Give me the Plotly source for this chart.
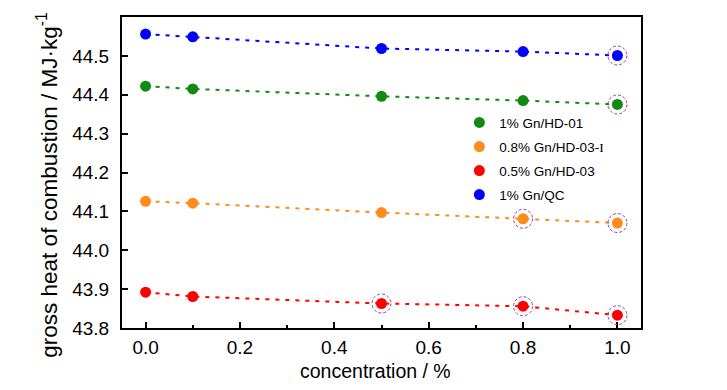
import plotly.graph_objects as go

concentration = [0.0, 0.1, 0.5, 0.8, 1.0]
series_names = ["1% Gn/HD-01",
                "0.8% Gn/HD-03-<span style='font-family:Liberation Serif'>I</span>",
                "0.5% Gn/HD-03", "1% Gn/QC"]
hd01 = [44.422, 44.415, 44.396, 44.385, 44.375]
hd03_i = [44.126, 44.121, 44.097, 44.081, 44.070]
hd03 = [43.892, 43.881, 43.863, 43.856, 43.833]
qc = [44.556, 44.549, 44.519, 44.511, 44.501]
colors = ["#118a11", "#ff8c1a", "#ff0000", "#0000ff"]
# points highlighted with dashed circles: (series index, concentration index)
highlighted = [(0, 4), (1, 3), (1, 4), (2, 2), (2, 3), (2, 4), (3, 4)]

x_ticks = [0.0, 0.2, 0.4, 0.6, 0.8, 1.0]
y_ticks = [43.8, 43.9, 44.0, 44.1, 44.2, 44.3, 44.4, 44.5, 44.6]
x_title = "concentration / %"
y_title = "gross heat of combustion / MJ·kg<sup>-1</sup>"

series = [hd01, hd03_i, hd03, qc]

fig = go.Figure()
# dotted lines (no legend)
for vals, c in zip(series, colors):
    fig.add_trace(go.Scatter(x=concentration, y=vals, mode="lines",
                             line=dict(color=c, width=2, dash="4px,6px"),
                             showlegend=False, hoverinfo="skip"))
for i, (vals, c, n) in enumerate(zip(series, colors, series_names)):
    fig.add_trace(go.Scatter(x=concentration, y=vals, mode="markers", name=n,
                             legendgroup=f"g{i}",
                             marker=dict(color=c, size=11)))

for si, ci in highlighted:
    fig.add_shape(type="circle", xref="x", yref="y",
                  xsizemode="pixel", ysizemode="pixel",
                  xanchor=concentration[ci], yanchor=series[si][ci],
                  x0=-9.5, x1=9.5, y0=-9.5, y1=9.5,
                  line=dict(color="#9a3c9a", width=1, dash="3px,2px"))

font = "Liberation Sans, Arial"
fig.add_annotation(text=x_title, xref="paper", yref="paper", x=0.489, y=-0.138,
                   xanchor="center", yanchor="middle", showarrow=False,
                   font=dict(size=19.5, family=font, color="black"))
fig.add_annotation(text=y_title, xref="paper", yref="paper", x=-0.1445, y=0.4576,
                   xanchor="center", yanchor="middle", showarrow=False, textangle=-90,
                   font=dict(size=22.5, family=font, color="black"))

fig.update_layout(
    width=719, height=382,
    margin=dict(l=114, r=86, t=9, b=62),
    plot_bgcolor="white", paper_bgcolor="white",
    font=dict(family=font, color="black"),
    legend=dict(x=0.65, y=0.71, xanchor="left", yanchor="top",
                font=dict(size=13.5, family=font), bgcolor="rgba(0,0,0,0)",
                tracegroupgap=3.5, itemwidth=30),
    xaxis=dict(range=[-0.05, 1.05], tickvals=x_ticks,
               ticktext=[f"{v:.1f}" for v in x_ticks],
               ticks="inside", ticklen=6, tickwidth=1.5, tickcolor="black",
               minor=dict(dtick=0.1, tick0=0.1, ticks="inside", ticklen=3,
                          tickwidth=1.5, tickcolor="black", showgrid=False),
               showline=True, linewidth=2, linecolor="black", mirror=True,
               showgrid=False, zeroline=False, automargin=False,
               tickfont=dict(size=19), ticklabelstandoff=1),
    yaxis=dict(range=[43.8, 44.6], tickvals=y_ticks,
               ticktext=[f"{v:.1f}" for v in y_ticks],
               ticks="inside", ticklen=6, tickwidth=1.5, tickcolor="black",
               showline=True, linewidth=2, linecolor="black", mirror=True,
               showgrid=False, zeroline=False, automargin=False,
               tickfont=dict(size=19), ticklabelstandoff=7),
)

fig.write_html("out.html")
